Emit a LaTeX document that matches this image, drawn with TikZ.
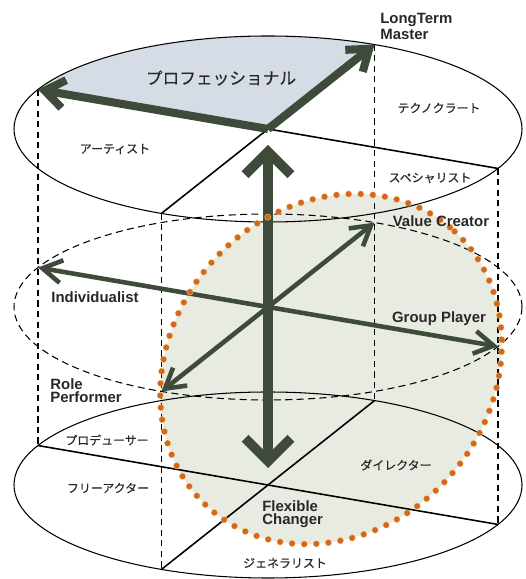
\documentclass[tikz,border=0pt]{standalone}
\usepackage{fontspec}
\setmainfont{Liberation Sans}
\newfontfamily\jafont[FakeBold=0.4]{Noto Sans CJK JP}
\usetikzlibrary{arrows.meta,calc}

\definecolor{axisgreen}{RGB}{62,74,58}
\definecolor{problue}{RGB}{214,220,229}
\definecolor{dotorange}{RGB}{212,100,40}
\definecolor{dotglow}{RGB}{238,190,80}
\definecolor{palegreen}{RGB}{231,235,225}
\definecolor{inkgray}{RGB}{40,40,40}

\tikzset{
  rim/.style={line width=0.6pt, black},
  quadline/.style={line width=0.9pt, black},
  guide/.style={line width=0.6pt, dash pattern=on 3.5pt off 2.5pt},
  proaxis/.style={line width=4.6pt, axisgreen, -{Straight Barb[length=11pt, width=16pt]}},
  midaxis/.style={line width=2.6pt, axisgreen,
    {Straight Barb[length=11pt, width=13pt]}-{Straight Barb[length=11pt, width=13pt]}},
  timeaxis/.style={line width=5.5pt, axisgreen,
    {Straight Barb[length=13pt, width=26pt]}-{Straight Barb[length=13pt, width=26pt]}},
  en/.style={font=\fontsize{8.5}{7.5}\selectfont\bfseries, text=inkgray, inner sep=0pt, align=left},
  ja/.style={font=\jafont\fontsize{6.8}{8}\selectfont, text=inkgray, inner sep=0pt},
  dotring/.style={draw=dotorange, line width=3.2pt, line cap=round, dash pattern=on 0pt off 6.9pt,
    preaction={draw=dotglow, line width=3.9pt, line cap=round, dash pattern=on 0pt off 6.9pt}},
}

\begin{document}
\begin{tikzpicture}
\useasboundingbox (0,0) rectangle (10.5,11.58);

% Level centres
\coordinate (top) at (5.36,9.0);
\coordinate (mid) at (5.36,5.44);
\coordinate (bot) at (5.36,1.88);

% Quadrant points on every level
\foreach \lev in {top,mid,bot} {
  \coordinate (\lev-w) at ($(\lev)+(154.9:5.08 and 1.86)$);
  \coordinate (\lev-n) at ($(\lev)+(65.2:5.08 and 1.86)$);
  \coordinate (\lev-e) at ($(\lev)+(-25.1:5.08 and 1.86)$);
  \coordinate (\lev-s) at ($(\lev)+(245.2:5.08 and 1.86)$);
}

% Flexible region (behind everything)
\coordinate (flex) at (6.62,4.20);
\fill[palegreen, rotate around={50:(flex)}] (flex) ellipse [x radius=3.7, y radius=3.2];

% Professional quadrant
\fill[problue] (top) -- (top-w)
  arc[start angle=154.9, end angle=65.2, x radius=5.08, y radius=1.86] -- cycle;

% Ellipses
\draw[rim] (top) ellipse [x radius=5.08, y radius=1.86];
\draw[rim, dash pattern=on 4pt off 2.5pt] (mid) ellipse [x radius=5.08, y radius=1.86];
\draw[rim] (bot) ellipse [x radius=5.08, y radius=1.86];

% Dashed guides
\foreach \d in {w,n,e,s}
  \draw[guide] (top-\d) -- (bot-\d);

% Quadrant lines
\draw[quadline] (top) -- (top-e);
\draw[quadline] (top) -- (top-s);
\draw[quadline] (bot-w) -- (bot-e);
\draw[quadline] (bot-n) -- (bot-s);

% Axes
\draw[proaxis] (top) -- (top-w);
\draw[proaxis] (top) -- (top-n);
\draw[midaxis] (mid-w) -- (mid-e);
\draw[midaxis] (mid-s) -- (mid-n);
\coordinate (up) at ($(top)+(0,-0.32)$);
\coordinate (down) at ($(bot)+(0,0.34)$);
\draw[timeaxis] (down) -- (up);

% Dotted ring
\draw[dotring, rotate around={50:(flex)}] (flex) ellipse [x radius=3.7, y radius=3.2];

% Labels, top level
\node[en, anchor=west] (longterm) at (7.6,11.05) {LongTerm\\Master};
\node[ja, font=\jafont\fontsize{9.5}{11}\selectfont] (professional) at (4.42,10.02) {プロフェッショナル};
\node[ja] (technocrat) at (8.78,9.42) {テクノクラート};
\node[ja] (artist) at (2.30,8.60) {アーティスト};
\node[ja] (specialist) at (8.60,8.02) {スペシャリスト};

% Labels, middle level
\node[en] (valuecreator) at (8.82,7.16) {Value Creator};
\node[en] (individualist) at (1.90,5.64) {Individualist};
\node[en] (groupplayer) at (8.78,5.20) {Group Player};
\node[en, anchor=west] (roleperformer) at (1.0,3.76) {Role\\Performer};

% Labels, bottom level
\node[ja] (producer) at (2.14,2.78) {プロデューサー};
\node[ja] (freeactor) at (2.16,1.82) {フリーアクター};
\node[ja] (director) at (7.92,2.28) {ダイレクター};
\node[en, anchor=west] (flexchanger) at (5.24,1.30) {Flexible\\Changer};
\node[ja] (generalist) at (5.70,0.32) {ジェネラリスト};

\end{tikzpicture}
\end{document}
